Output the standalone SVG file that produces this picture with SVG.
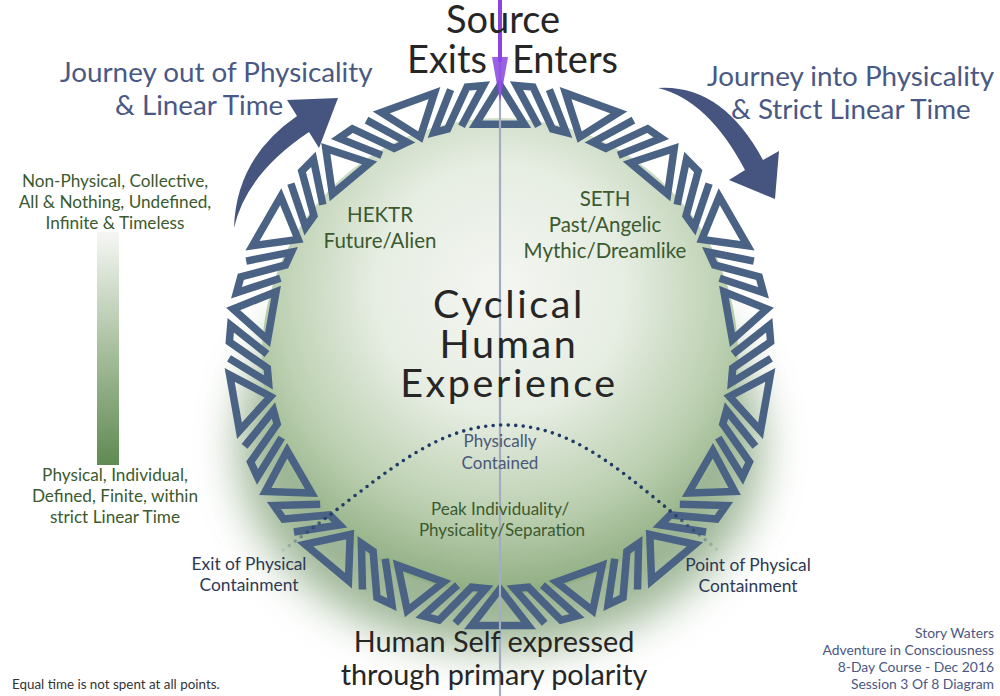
<svg xmlns="http://www.w3.org/2000/svg" xmlns:xlink="http://www.w3.org/1999/xlink" width="1000" height="696" viewBox="0 0 1000 696">
<defs>
<style>
.t{font-family:Lato,'Liberation Sans',sans-serif}
.knot{fill:none;stroke:#4a6283;stroke-width:7.5;stroke-linejoin:miter}
.slate{fill:#4a5884}
.green{fill:#3b5a2f}
.dark{fill:#262626}
</style>
<radialGradient id="sph" cx="0.5" cy="0.36" r="0.66">
<stop offset="0" stop-color="#f4f6f2"/>
<stop offset="0.4" stop-color="#e6ede2"/>
<stop offset="0.72" stop-color="#bcd0b1"/>
<stop offset="1" stop-color="#8aa97c"/>
</radialGradient>
<linearGradient id="bar" x1="0" y1="0" x2="0" y2="1">
<stop offset="0" stop-color="#f6f7f5"/>
<stop offset="0.5" stop-color="#a8c09e"/>
<stop offset="1" stop-color="#5f8a52"/>
</linearGradient>
<linearGradient id="dotfade" x1="283" y1="0" x2="718" y2="0" gradientUnits="userSpaceOnUse">
<stop offset="0" stop-color="#1f3a66" stop-opacity="0.1"/>
<stop offset="0.12" stop-color="#1f3a66" stop-opacity="1"/>
<stop offset="0.88" stop-color="#1f3a66" stop-opacity="1"/>
<stop offset="1" stop-color="#1f3a66" stop-opacity="0.1"/>
</linearGradient>
<filter id="blur" x="-30%" y="-30%" width="160%" height="160%"><feGaussianBlur stdDeviation="22"/></filter>
<g id="uA" class="knot">
<path d="M-24.36,-231.72 L24.36,-231.72 L0,-271 Z"/>
<path d="M38.46,-229.81 L16.54,-270.49 L33.03,-268.98 L52.41,-227.03 L66.18,-223.40 L49.39,-266.46"/>
</g>
<g id="uB" class="knot">
<path d="M-28.33,-269.52 L28.33,-269.52 L0,-233 Z"/>
<path d="M44.73,-267.28 L14.22,-232.56 L28.40,-231.26 L60.96,-264.05 L76.97,-259.84 L42.46,-229.10"/>
</g>
</defs>
<rect width="1000" height="696" fill="#ffffff"/>

<g id="sphere">
<ellipse cx="500" cy="445" rx="262" ry="205" fill="#7d9d72" opacity="0.75" filter="url(#blur)"/>
<circle cx="500" cy="356" r="238" fill="url(#sph)"/>
</g>

<g id="ring" transform="translate(500,356)">
<use xlink:href="#uA"/>
<use xlink:href="#uB" transform="rotate(20)"/>
<use xlink:href="#uA" transform="rotate(40)"/>
<use xlink:href="#uB" transform="rotate(60)"/>
<use xlink:href="#uA" transform="rotate(80)"/>
<use xlink:href="#uB" transform="rotate(100)"/>
<use xlink:href="#uA" transform="rotate(120)"/>
<use xlink:href="#uB" transform="rotate(140)"/>
<use xlink:href="#uA" transform="rotate(160)"/>
<use xlink:href="#uB" transform="rotate(180)"/>
<use xlink:href="#uA" transform="rotate(200)"/>
<use xlink:href="#uB" transform="rotate(220)"/>
<use xlink:href="#uA" transform="rotate(240)"/>
<use xlink:href="#uB" transform="rotate(260)"/>
<use xlink:href="#uA" transform="rotate(280)"/>
<use xlink:href="#uB" transform="rotate(300)"/>
<use xlink:href="#uA" transform="rotate(320)"/>
<use xlink:href="#uB" transform="rotate(340)"/>
</g>

<g id="connectors">
<line x1="500" y1="60" x2="500" y2="696" stroke="#a3acc2" stroke-width="2.2"/>
<line x1="500" y1="0" x2="500" y2="62" stroke="#8a44e2" stroke-width="4"/>
<path d="M492,57 L508,57 L500,102 Z" fill="#8a44e2" opacity="0.85"/>
<path id="arrow-out" d="M234,228 Q236,158 297,116 L287,100 L338,98 L319,148 L309,132 Q246,174 234,228 Z" fill="#46557f"/>
<path id="arrow-in" d="M658,88 Q722,84 763,160 L779,151 L775,199 L729,180 L745,170 Q708,100 658,88 Z" fill="#46557f"/>
<path id="dotted" d="M283,550 C380,480 430,425 505,425 C580,425 630,480 718,550" fill="none" stroke="url(#dotfade)" stroke-width="3.6" stroke-linecap="round" stroke-dasharray="0 7.5"/>
</g>

<g id="source" class="t dark" font-size="38" text-anchor="middle">
<text x="503" y="33">Source</text>
<text x="447" y="73">Exits</text>
<text x="565" y="73">Enters</text>
</g>

<g id="journey-out" class="t slate" font-size="27.8">
<text x="60" y="82">Journey out of Physicality</text>
<text x="115" y="115">&amp; Linear Time</text>
</g>
<g id="journey-in" class="t slate" font-size="27.8">
<text x="707" y="86">Journey into Physicality</text>
<text x="731" y="119">&amp; Strict Linear Time</text>
</g>

<g id="scale">
<rect x="97" y="232" width="22" height="233" fill="url(#bar)"/>
<g class="t green" font-size="17.2" text-anchor="middle">
<text x="115" y="187">Non-Physical, Collective,</text>
<text x="115" y="208">All &amp; Nothing, Undefined,</text>
<text x="115" y="229">Infinite &amp; Timeless</text>
<text x="115" y="481">Physical, Individual,</text>
<text x="115" y="502">Defined, Finite, within</text>
<text x="115" y="523">strict Linear Time</text>
</g>
</g>

<g id="hektr" class="t green" font-size="20.5" text-anchor="middle">
<text x="380" y="222">HEKTR</text>
<text x="380" y="248">Future/Alien</text>
</g>
<g id="seth" class="t green" font-size="20.5" text-anchor="middle">
<text x="605" y="206">SETH</text>
<text x="605" y="232">Past/Angelic</text>
<text x="605" y="258">Mythic/Dreamlike</text>
</g>

<g id="center" class="t dark" font-size="39.5" text-anchor="middle" letter-spacing="2.6">
<text x="509" y="318">Cyclical</text>
<text x="509" y="358">Human</text>
<text x="509" y="397">Experience</text>
</g>

<g id="contained" class="t" font-size="17" text-anchor="middle" fill="#4a5878">
<text x="500" y="447">Physically</text>
<text x="500" y="469">Contained</text>
</g>
<g id="peak" class="t green" font-size="17" text-anchor="middle">
<text x="500" y="515">Peak Individuality/</text>
<text x="502" y="536">Physicality/Separation</text>
</g>

<g id="exit" class="t" font-size="17.4" text-anchor="middle" fill="#2d3956">
<text x="249" y="570">Exit of Physical</text>
<text x="249" y="591">Containment</text>
</g>
<g id="point" class="t" font-size="17.4" text-anchor="middle" fill="#2d3956">
<text x="748" y="571">Point of Physical</text>
<text x="748" y="592">Containment</text>
</g>

<g id="human-self" class="t dark" font-size="28.8" text-anchor="middle">
<text x="494" y="652">Human Self expressed</text>
<text x="494" y="685">through primary polarity</text>
</g>

<g id="credits" class="t slate" font-size="13.9" text-anchor="end">
<text x="994" y="638">Story Waters</text>
<text x="994" y="655">Adventure in Consciousness</text>
<text x="994" y="672">8-Day Course - Dec 2016</text>
<text x="994" y="689">Session 3 Of 8 Diagram</text>
</g>

<text id="note" class="t" x="12" y="689" font-size="13.4" fill="#333333">Equal time is not spent at all points.</text>
</svg>
